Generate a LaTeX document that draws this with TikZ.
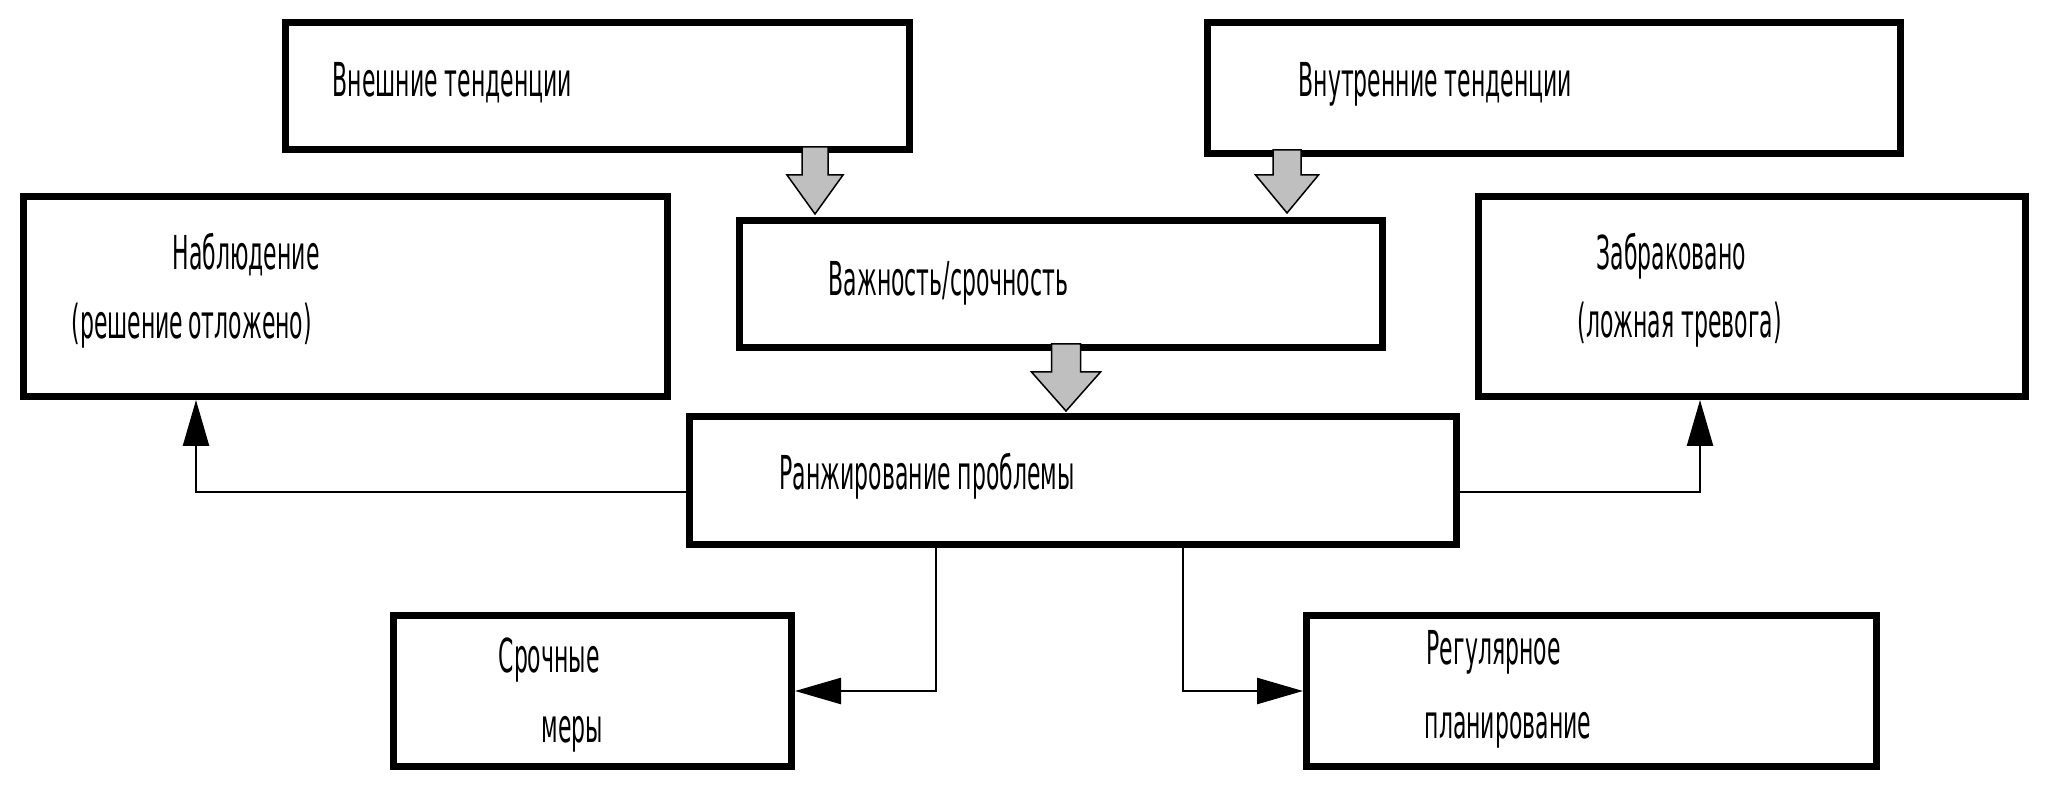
\documentclass[tikz,border=0pt]{standalone}
\usepackage{fontspec}
\newfontfamily\boxfont[FakeStretch=0.47]{DejaVu Sans}
\usetikzlibrary{arrows.meta}
\tikzset{
  box/.style={draw, line width=0.7mm, rectangle, inner sep=0pt},
  boxtext/.style={anchor=base west, inner sep=0pt, font=\boxfont\fontsize{13.3}{16}\selectfont},
  link/.style={line width=0.25mm, -{Triangle[length=4.6mm, width=2.6mm]}},
  fat arrow/.style={fill=gray!50, draw=black, line width=0.15mm}
}
\begin{document}
\begin{tikzpicture}[x=0.1mm, y=-0.1mm]
\useasboundingbox (0,0) rectangle (2048,791);

% boxes
\node[box, minimum width=62.4mm, minimum height=12.7mm] (outer) at (597.5,86) {};
\node[box, minimum width=69.3mm, minimum height=13.1mm] (inner) at (1554,88) {};
\node[box, minimum width=64.4mm, minimum height=20mm] (watch) at (345.5,296.5) {};
\node[box, minimum width=64.3mm, minimum height=12.7mm] (weight) at (1061,284) {};
\node[box, minimum width=54.7mm, minimum height=20mm] (reject) at (1752,296.5) {};
\node[box, minimum width=76.7mm, minimum height=12.8mm] (rank) at (1073,480.5) {};
\node[box, minimum width=39.8mm, minimum height=15.1mm] (urgent) at (592.5,691) {};
\node[box, minimum width=57mm, minimum height=15.1mm] (regular) at (1591.5,691) {};

% texts
\node[boxtext] (outer-t) at (332,97) {Внешние тенденции};
\node[boxtext] (inner-t) at (1298,97) {Внутренние тенденции};
\node[boxtext] (watch-t1) at (172,270) {Наблюдение};
\node[boxtext] (watch-t2) at (71,339) {(решение\hspace{0.5mm}отложено)};
\node[boxtext] (weight-t) at (828,296) {Важность/срочность};
\node[boxtext] (reject-t1) at (1596,270) {Забраковано};
\node[boxtext] (reject-t2) at (1577,338) {(ложная тревога)};
\node[boxtext] (rank-t) at (779,490) {Ранжирование проблемы};
\node[boxtext] (urgent-t1) at (498,673) {Срочные};
\node[boxtext] (urgent-t2) at (541,742) {меры};
\node[boxtext] (regular-t1) at (1426,664) {Регулярное};
\node[boxtext] (regular-t2) at (1424,738) {планирование};

% grey block arrows
\foreach \cx/\ya/\yb/\yc/\sw/\hw in {815/147/175/214/13/28, 1287/150/175/213/14/31.5, 1066/344/372/411/14.5/34.5}
  \filldraw[fat arrow] (\cx-\sw,\ya) -- (\cx+\sw,\ya) -- (\cx+\sw,\yb) -- (\cx+\hw,\yb)
    -- (\cx,\yc) -- (\cx-\hw,\yb) -- (\cx-\sw,\yb) -- cycle;

% connectors
\draw[link] ([yshift=-1.15mm]rank.west) -| ([xshift=-14.95mm]watch.south);
\draw[link] ([yshift=-1.15mm]rank.east) -| ([xshift=-5.2mm]reject.south);
\draw[link] ([xshift=-13.7mm]rank.south) |- (urgent.east);
\draw[link] ([xshift=11mm]rank.south) |- (regular.west);
\end{tikzpicture}
\end{document}
